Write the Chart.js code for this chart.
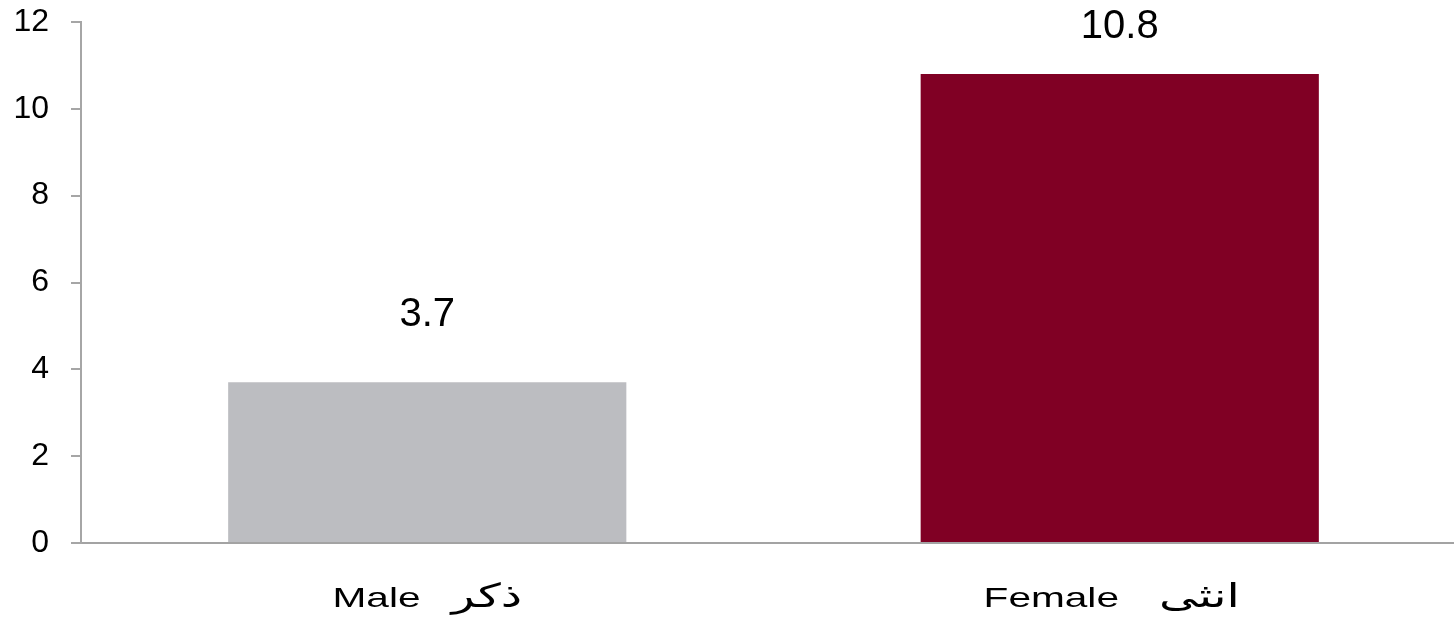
<!DOCTYPE html>
<html>
<head>
<meta charset="utf-8">
<script src="https://cdn.jsdelivr.net/npm/chart.js@4"></script>
<style>
html,body{margin:0;padding:0;background:#fff;overflow:hidden;}
#wrap{width:1466px;height:622px;position:relative;}
</style>
</head>
<body>
<div id="wrap"><canvas id="c" width="1466" height="622"></canvas></div>
<script>
const categoriesEn = ["Male", "Female"];
const categoriesAr = ["ذكر", "انثى"];
const values = [3.7, 10.8];
const valueLabels = ["3.7", "10.8"];
const yTicks = [0, 2, 4, 6, 8, 10, 12];

const barColors = ["#bcbdc1", "#800024"];
const labelGaps = [31, 40];
const labelShift = [0, -8];

const categories = categoriesEn.map((e, i) => e + "  " + categoriesAr[i]);

const dataLabelPlugin = {
  id: 'dataLabels',
  afterDatasetsDraw(chart) {
    const ctx = chart.ctx;
    const meta = chart.getDatasetMeta(0);
    ctx.save();
    ctx.font = '40px "Liberation Sans", Arial, sans-serif';
    ctx.fillStyle = '#000';
    ctx.textAlign = 'center';
    ctx.textBaseline = 'alphabetic';
    meta.data.forEach((bar, i) => {
      const y = Math.max(bar.y - 56, 38);
      ctx.fillText(valueLabels[i], bar.x, y);
    });
    ctx.restore();
  }
};

const xLabelPlugin = {
  id: 'xLabels',
  afterDraw(chart) {
    const ctx = chart.ctx;
    const xs = chart.scales.x;
    const baseY = chart.chartArea.bottom + 64;
    const sx = 1.45;
    ctx.save();
    ctx.fillStyle = '#000';
    ctx.textBaseline = 'alphabetic';
    ctx.textAlign = 'left';
    categoriesEn.forEach((en, i) => {
      const cx = xs.getPixelForValue(i) + labelShift[i];
      ctx.font = '28px "Liberation Sans", Arial, sans-serif';
      const wE = ctx.measureText(en).width * sx;
      ctx.font = '33px "DejaVu Sans", sans-serif';
      const wA = ctx.measureText(categoriesAr[i]).width * sx;
      const total = wE + labelGaps[i] + wA;
      const start = cx - total / 2;
      ctx.save();
      ctx.translate(start, baseY);
      ctx.scale(sx, 1);
      ctx.font = '28px "Liberation Sans", Arial, sans-serif';
      ctx.fillText(en, 0, 0);
      ctx.restore();
      ctx.save();
      ctx.translate(start + wE + labelGaps[i], baseY);
      ctx.scale(sx, 1);
      ctx.font = '33px "DejaVu Sans", sans-serif';
      ctx.direction = 'rtl';
      ctx.textAlign = 'right';
      ctx.fillText(categoriesAr[i], wA / sx, 0);
      ctx.restore();
    });
    ctx.restore();
  }
};

new Chart(document.getElementById('c'), {
  type: 'bar',
  data: {
    labels: categories,
    datasets: [{
      data: values,
      backgroundColor: barColors,
      borderWidth: 0,
      barPercentage: 0.575,
      categoryPercentage: 1.0
    }]
  },
  options: {
    responsive: false,
    animation: false,
    layout: { padding: { top: 22, left: 0, right: 0, bottom: 0 } },
    plugins: { legend: { display: false }, tooltip: { enabled: false } },
    scales: {
      x: {
        grid: { display: false, drawTicks: false },
        border: { display: true, color: '#a3a3a3', width: 2 },
        ticks: { display: false },
        afterFit(s) { s.height = 79; s.paddingLeft = 0; s.paddingRight = 0; }
      },
      y: {
        min: 0, max: 12,
        afterBuildTicks(s) { s.ticks = yTicks.map(v => ({ value: v })); },
        grid: { drawOnChartArea: false, drawTicks: true, tickLength: 10, color: '#a6a6a6', lineWidth: 2 },
        border: { display: true, color: '#a6a6a6', width: 2 },
        ticks: {
          color: '#000',
          font: { family: '"Liberation Sans", Arial, sans-serif', size: 32 },
          padding: 22
        },
        afterFit(s) { s.width = 81; s.paddingTop = 0; s.paddingBottom = 0; }
      }
    }
  },
  plugins: [dataLabelPlugin, xLabelPlugin]
});
</script>
</body>
</html>
